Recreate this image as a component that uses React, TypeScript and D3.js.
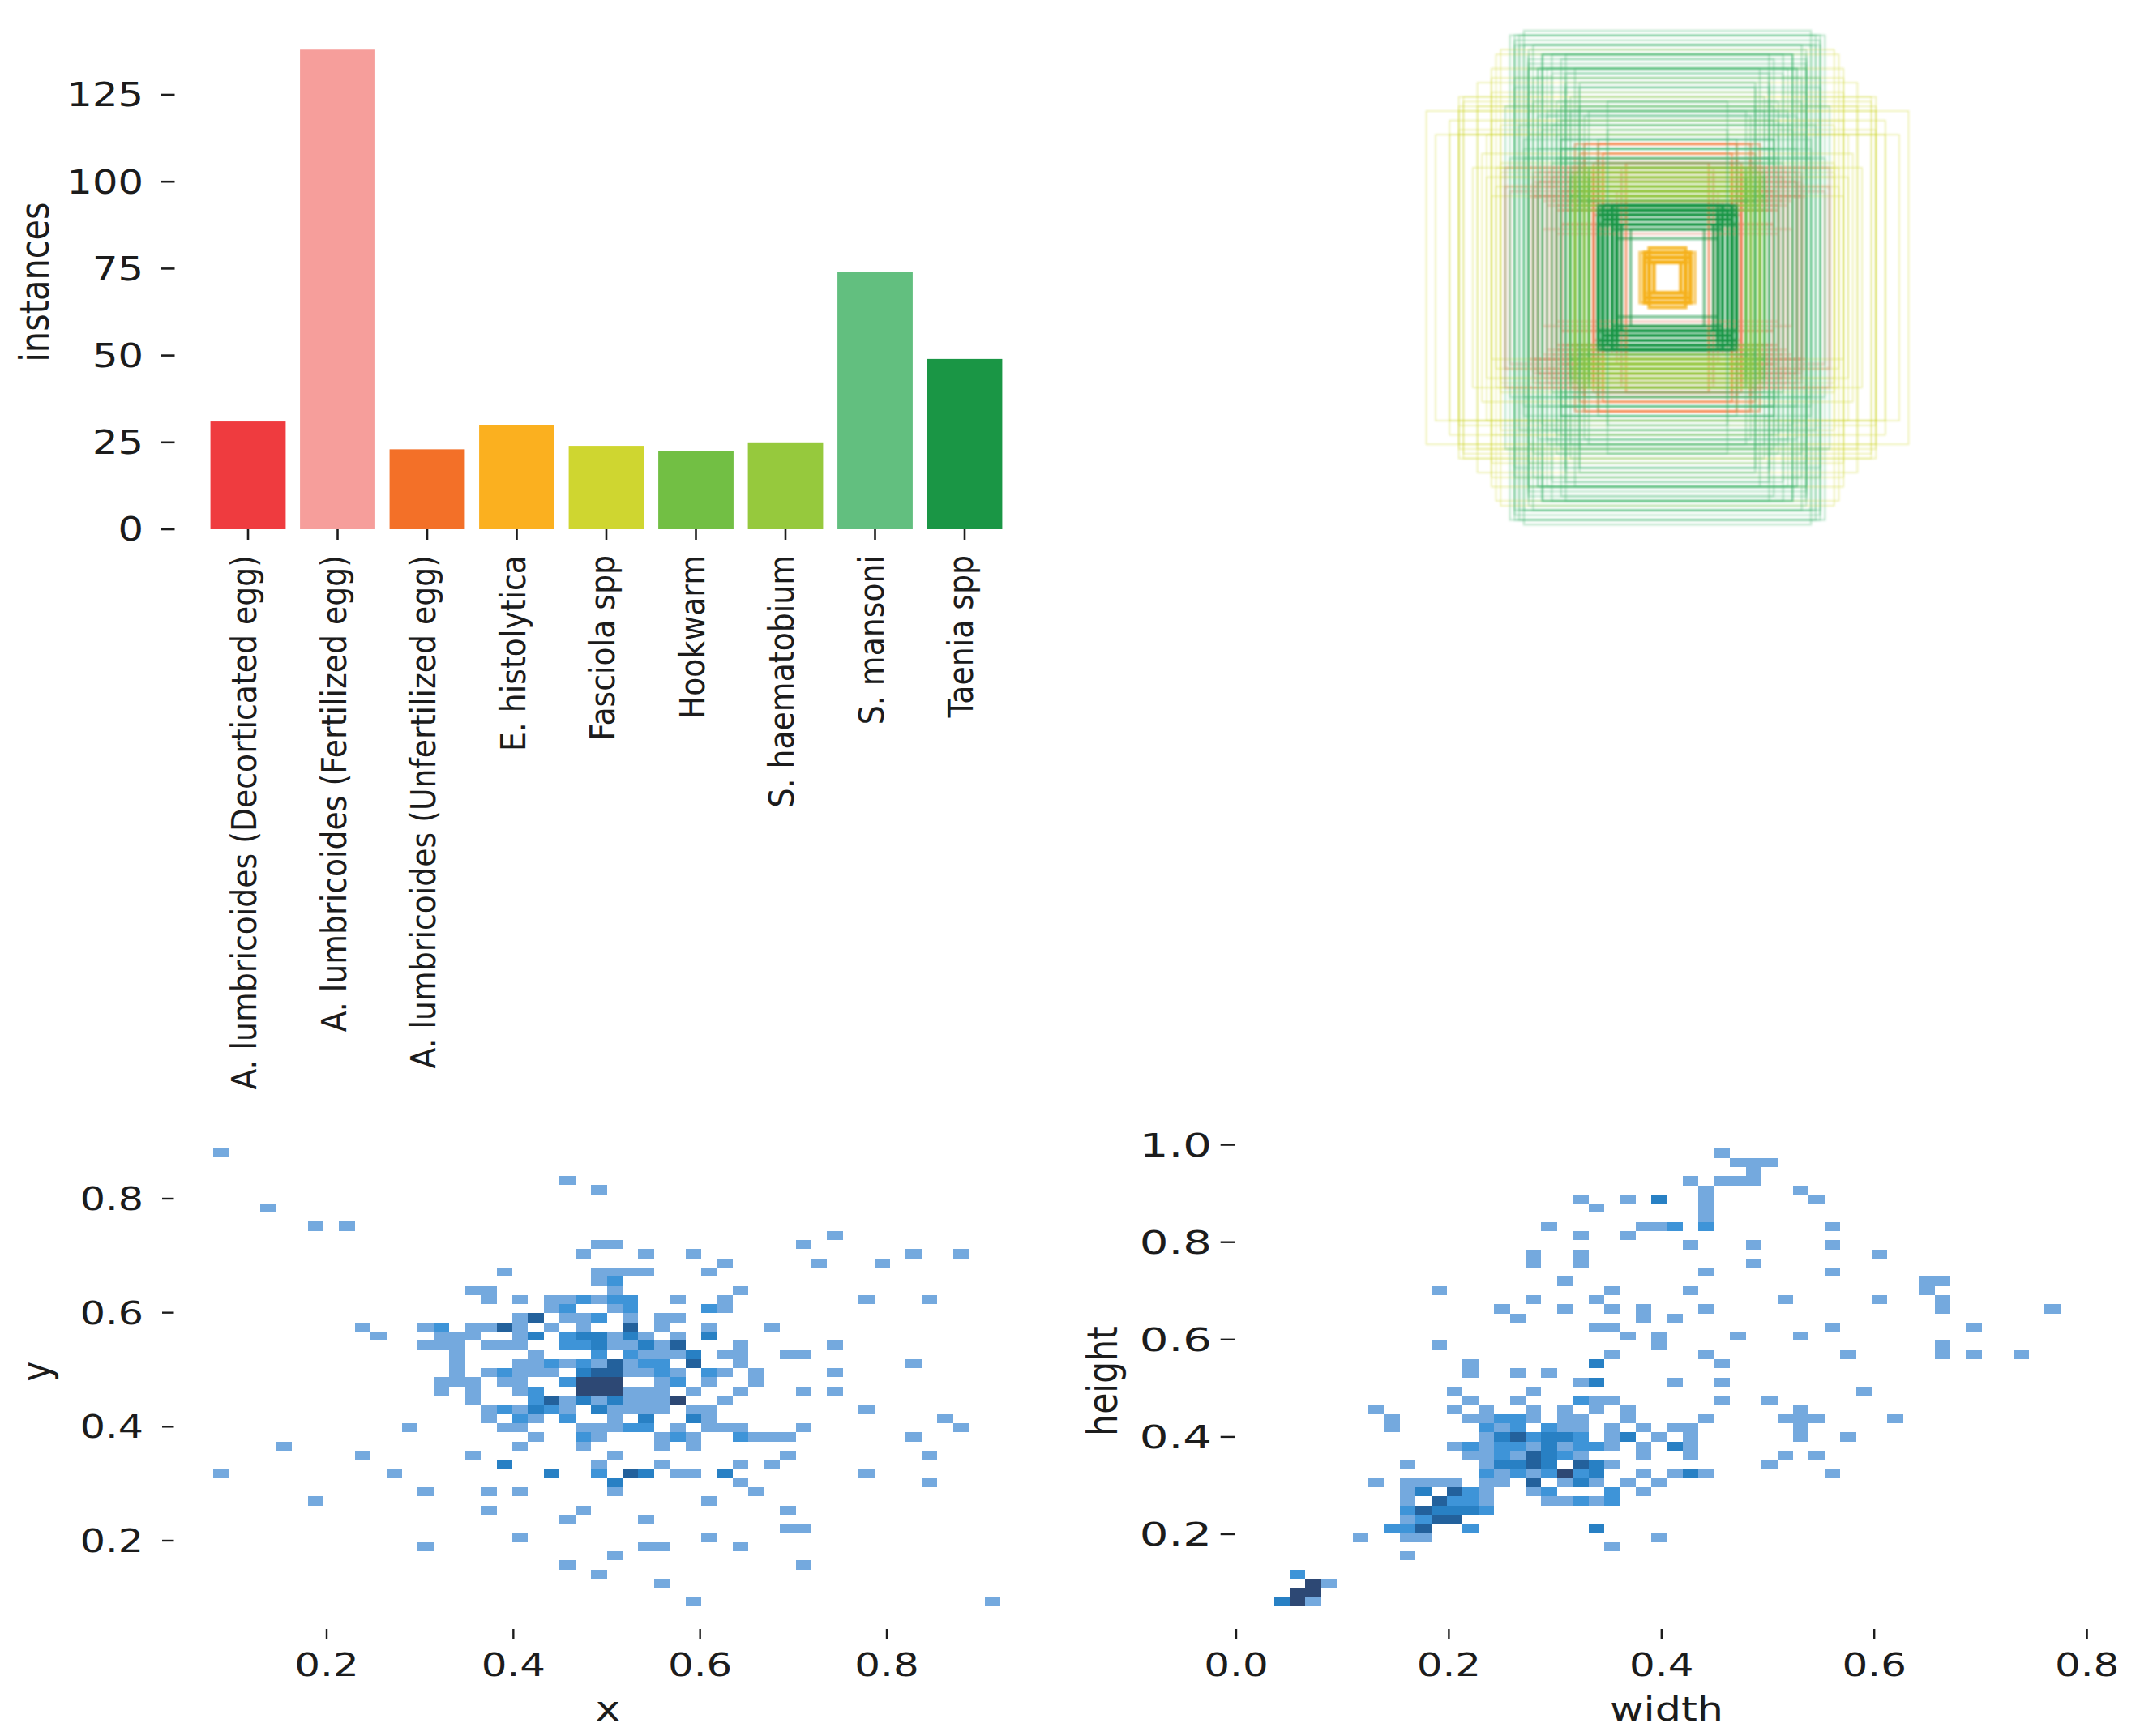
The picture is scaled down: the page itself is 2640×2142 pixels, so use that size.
import React from "react";
import * as d3 from "d3";

const categories = ["A. lumbricoides (Decorticated egg)","A. lumbricoides (Fertilized egg)","A. lumbricoides (Unfertilized egg)","E. histolytica","Fasciola spp","Hookwarm","S. haematobium","S. mansoni","Taenia spp"];
const instances = [31,138,23,30,24,22.5,25,74,49];
const barColors = ["#EF3B3F","#F69E9B","#F37028","#FBB01F","#CFD630","#72BF44","#96C93D","#62BF7F","#1A9645"];
const boxColors = ["#EF3B3F","#E8937A","#F37028","#F6B21B","#CFD630","#72BF44","#96C93D","#3FB56E","#1A9645"];
const classStroke = [2.5,3,2.5,4.2,1.5,3,3,2.4,3.6];
const classAlpha = [0.4,0.42,0.55,0.62,0.42,0.42,0.42,0.32,0.55];
const barTicks = [0,25,50,75,100,125];
const xyXTicks = [0.2,0.4,0.6,0.8];
const xyYTicks = [0.2,0.4,0.6,0.8];
const hwXTicks = [0,0.2,0.4,0.6,0.8];
const hwYTicks = [0.2,0.4,0.6,0.8,1.0];
const levelColors = ["#74A9DE","#3E94D8","#2880C4","#23619C","#2D4874"];

// 2-D histogram rows, top to bottom: "column" or "column:level"
const xyRows = ["0","","","22","24","","3","","6 8","39","24 25 37","23 27 30 44 47","32 38 42","18 24 25 26 27 31","24 25:2","16 17 25 33",
"17 19 21 22 23:2 24 25:2 26:2 29 32 41 45","21 22:2 25 26:2 31:2 32","19 20:4 22 23 24:2 26 28 29","9 13 14:2 16 17 18:4 19 21 23 26:4 28 31 35",
"10 14 15 16 19 20:3 22:2 23:3 24:3 25 26:3 27 29 31:3","13 14 15 17 18 19 22:2 23:2 24:3 25 26 27:3 28 29:4 33 39","15 20 24:2 26:2 27 28 29 30:3 32 33 36 37",
"15 19 20 21:2 22 23:2 24 25:4 26 27:2 28:2 30:4 33 44","15 17 18:2 19 20 21 23:3 24:4 25:4 26 27 28:2 29 31:2 32 34 39","14 15 16 18 19 22:2 23:5 24:5 25:5 28 29:2 31 34",
"14 16 19 20:2 23:5 24:5 25:5 26 27 28 30 33 37 39","16 20:2 21:4 22 23:3 24 25:3 26 27 28 29:5 32","17 18:2 19 20:3 21:2 22 24:3 25 26 27 28 30 31 41","17 19:2 20 22:2 25 27:3 30:3 31 46",
"12 18 19 23 24 25 26:2 27:2 29 31 32 33 37 47","20 23:2 24 28 29:2 30 33:2 34 35 36 44","4 19 23 28 30","9 16 25 36 45","18:3 24 28 33 35","0 11 21:3 24:2 26:4 27:3 29 30 32:3 41",
"25:3 33 45","13 17 19 25 34","6 31","17 23 36","22 27","36 37","19 31","13 27 28 33","25","22 37","24","28","","30 49"];

const hwRows = ["28","29 30 31","30","26 28 29 30","27 33","19 22 24:3 27 34","20 27","27","17 23 24 25:2 27:2 35","19 22","26 30 35","16 19 38","16 19 30","27 35","18 41 42","10 21 26 41",
"16 20 32 38 42","14 18 21 23 27 42 49","15 23 25","20 21 35 44","22 24 29 33","10 24 42","21 27 36 42 44 47","12 20:3 28","12 15 17","19 20:3 25 28","11 16 37","12 15 19:2 20 21 28 31",
"6 11 13 16 18 20 22 33","7 12 13 14:2 15:2 16 18 19 22 27 32 33 34 39","7 13:2 14 15:2 17:2 18 19 21 23 25 26 33","13 14:3 15:4 16:2 17:3 18:3 19:2 21 22:3 24 26 33 36",
"11 12:2 13 14:2 15:2 16 17:3 18 19:2 20:2 21 23 25:3 26","12 13 14:2 15 16:4 17:3 18:2 19 23 26 32 34","8 13 14:3 15:3 16:4 17:3 19:4 20:3 21 31",
"13:2 14 15:2 16 17:2 18:5 19:2 20:3 23 25 26:3 27 35","6 8 9 10 11 13 14 16:4 18 19:3 20 22 24","8 9:3 11:4 12:2 13 16 17:2 21:2 23","8 10:4 11:2 12:2 13 17 18 19:2 20 21:2",
"8:2 9:4 10:3 11:3 12:3 13:2","8 9:2 10:4 11:4","7:2 8:2 9:4 12:2 20:3","5 8 9 24","21","8","","1:2","2:5 3","1:5 2:5","0:3 1:5 2"];

type Cell = { col: number; row: number; level: number };
const parseRows = (rows: string[]): Cell[] =>
  rows.flatMap((s, row) => (s ? s.split(" ") : []).map((t) => {
    const [c, l] = t.split(":");
    return { col: +c, row, level: l ? +l : 1 };
  }));

const xyCells = parseRows(xyRows);
const hwCells = parseRows(hwRows);

const FONT = "'DejaVu Sans', sans-serif";
const INK = "#1c1c1c";

function T({ x, y, s, size = 39, sx = 1.24, rot = false, anchor = "middle", dy = "0" }: any) {
  return (
    <text transform={`translate(${x},${y}) scale(${sx},1)${rot ? " rotate(-90)" : ""}`} textAnchor={anchor} dy={dy}
      fontFamily={FONT} fontSize={size} fill={INK}>{s}</text>
  );
}

function boxClass(w: number, h: number, c: Cell) {
  if (c.col <= 3 && c.row >= 46) return 3;
  if (w < 0.225 && h < 0.3) return 8;
  if (w >= 0.52) return 4;
  if (h > 0.55) return 7;
  if (h > 0.44) return w < 0.3 ? 2 : 7;
  if (w >= 0.24 && w < 0.31) return c.col % 2 ? 6 : 5;
  return 1;
}

function Hist({ cells, x, y, xStart, xEnd, yStart, yEnd }: any) {
  const bx = d3.scaleLinear().domain([0, 50]).range([x(xStart), x(xEnd)]);
  const by = d3.scaleLinear().domain([0, 50]).range([y(yStart), y(yEnd)]);
  return (
    <g shapeRendering="crispEdges">
      {cells.map((c: Cell, i: number) => (
        <rect key={i} x={bx(c.col)} y={by(c.row)} width={bx(1) - bx(0)} height={by(1) - by(0)} fill={levelColors[c.level - 1]} />
      ))}
    </g>
  );
}

export default function App() {
  const bx = d3.scaleBand<string>().domain(categories).range([250.75, 1245.25]).paddingInner(0.16).paddingOuter(0.08);
  const by = d3.scaleLinear().domain([0, 125]).range([653, 117]);

  const xyX = d3.scaleLinear().domain([0.2, 0.8]).range([403, 1094]);
  const xyY = d3.scaleLinear().domain([0.2, 0.8]).range([1901, 1479]);
  const hwX = d3.scaleLinear().domain([0, 0.8]).range([1525, 2574.6]);
  const hwY = d3.scaleLinear().domain([0.2, 1]).range([1893, 1412.6]);

  const hwStartX = 0.0355, hwEndX = 0.7750, hwStartY = 0.992, hwEndY = 0.0523;
  const wAt = d3.scaleLinear().domain([0, 50]).range([hwStartX, hwEndX]);
  const hAt = d3.scaleLinear().domain([0, 50]).range([hwStartY, hwEndY]);

  const boxW = d3.scaleLinear().domain([0, 1]).range([0, 775]);
  const boxH = d3.scaleLinear().domain([0, 1]).range([0, 620]);
  const cx = 2057, cy = 342.6;
  const boxes = hwCells.flatMap((c) => {
    const w = wAt(c.col + 0.5), h = hAt(c.row + 0.5);
    const k = boxClass(w, h, c);
    return d3.range(c.level).map((n) => ({ w, h, k, n }));
  }).sort((a, b) => (a.k === 4 ? -1 : a.k) - (b.k === 4 ? -1 : b.k));

  return (
    <svg width={2640} height={2142} viewBox="0 0 2640 2142" style={{ position: "absolute", left: 0, top: 0, background: "#fff" }}>
      <defs>
        <filter id="softBox" x="1700" y="0" width="740" height="680" filterUnits="userSpaceOnUse">
          <feGaussianBlur stdDeviation="1.2" />
        </filter>
      </defs>
      <rect width={2640} height={2142} fill="#fff" />

      <g filter="url(#softBox)" fill="none">
        {boxes.map((b, i) => (
          <rect key={i} x={cx - boxW(b.w) / 2} y={cy - boxH(b.h) / 2} width={boxW(b.w)} height={boxH(b.h)}
            stroke={boxColors[b.k]} strokeOpacity={classAlpha[b.k]} strokeWidth={classStroke[b.k]} />
        ))}
      </g>

      <g>
        {categories.map((c, i) => (
          <rect key={c} x={bx(c)} y={by(instances[i])} width={bx.bandwidth()} height={by(0) - by(instances[i])} fill={barColors[i]} />
        ))}
        {barTicks.map((t) => (
          <g key={t}>
            <line x1={199} x2={215.5} y1={by(t)} y2={by(t)} stroke={INK} strokeWidth={2.6} />
            <T x={177} y={by(t)} s={t} anchor="end" dy="0.36em" size={40} />
          </g>
        ))}
        {categories.map((c) => {
          const xc = bx(c)! + bx.bandwidth() / 2;
          return (
            <g key={c}>
              <line x1={xc} x2={xc} y1={653} y2={666} stroke={INK} strokeWidth={2.6} />
              <T x={xc + 10} y={685} s={c} rot anchor="end" size={37.8} sx={1.15} />
            </g>
          );
        })}
        <T x={60} y={348} s="instances" rot size={41.5} sx={1.2} />

        <Hist cells={xyCells} x={xyX} y={xyY} xStart={0.0785} xEnd={0.9215} yStart={0.888} yEnd={0.085} />
        {xyXTicks.map((t) => (
          <g key={t}>
            <line x1={xyX(t)} x2={xyX(t)} y1={2010} y2={2022} stroke={INK} strokeWidth={2.4} />
            <T x={xyX(t)} y={2068} s={t.toFixed(1)} sx={1.28} />
          </g>
        ))}
        {xyYTicks.map((t) => (
          <g key={t}>
            <line x1={200} x2={214.5} y1={xyY(t)} y2={xyY(t)} stroke={INK} strokeWidth={2.4} />
            <T x={177} y={xyY(t)} s={t.toFixed(1)} anchor="end" dy="0.36em" sx={1.26} />
          </g>
        ))}
        <T x={750} y={2123} s="x" size={42} />
        <T x={62} y={1692} s="y" rot size={42} sx={1.2} />

        <Hist cells={hwCells} x={hwX} y={hwY} xStart={hwStartX} xEnd={hwEndX} yStart={hwStartY} yEnd={hwEndY} />
        {hwXTicks.map((t) => (
          <g key={t}>
            <line x1={hwX(t)} x2={hwX(t)} y1={2010} y2={2022} stroke={INK} strokeWidth={2.4} />
            <T x={hwX(t)} y={2068} s={t.toFixed(1)} sx={1.28} />
          </g>
        ))}
        {hwYTicks.map((t) => (
          <g key={t}>
            <line x1={1505.7} x2={1523} y1={hwY(t)} y2={hwY(t)} stroke={INK} strokeWidth={2.4} />
            <T x={1495} y={hwY(t)} s={t.toFixed(1)} anchor="end" dy="0.36em" sx={1.44} />
          </g>
        ))}
        <T x={2056} y={2122.7} s="width" size={41} />
        <T x={1378} y={1704} s="height" rot size={42.5} sx={1.2} />
      </g>
    </svg>
  );
}
